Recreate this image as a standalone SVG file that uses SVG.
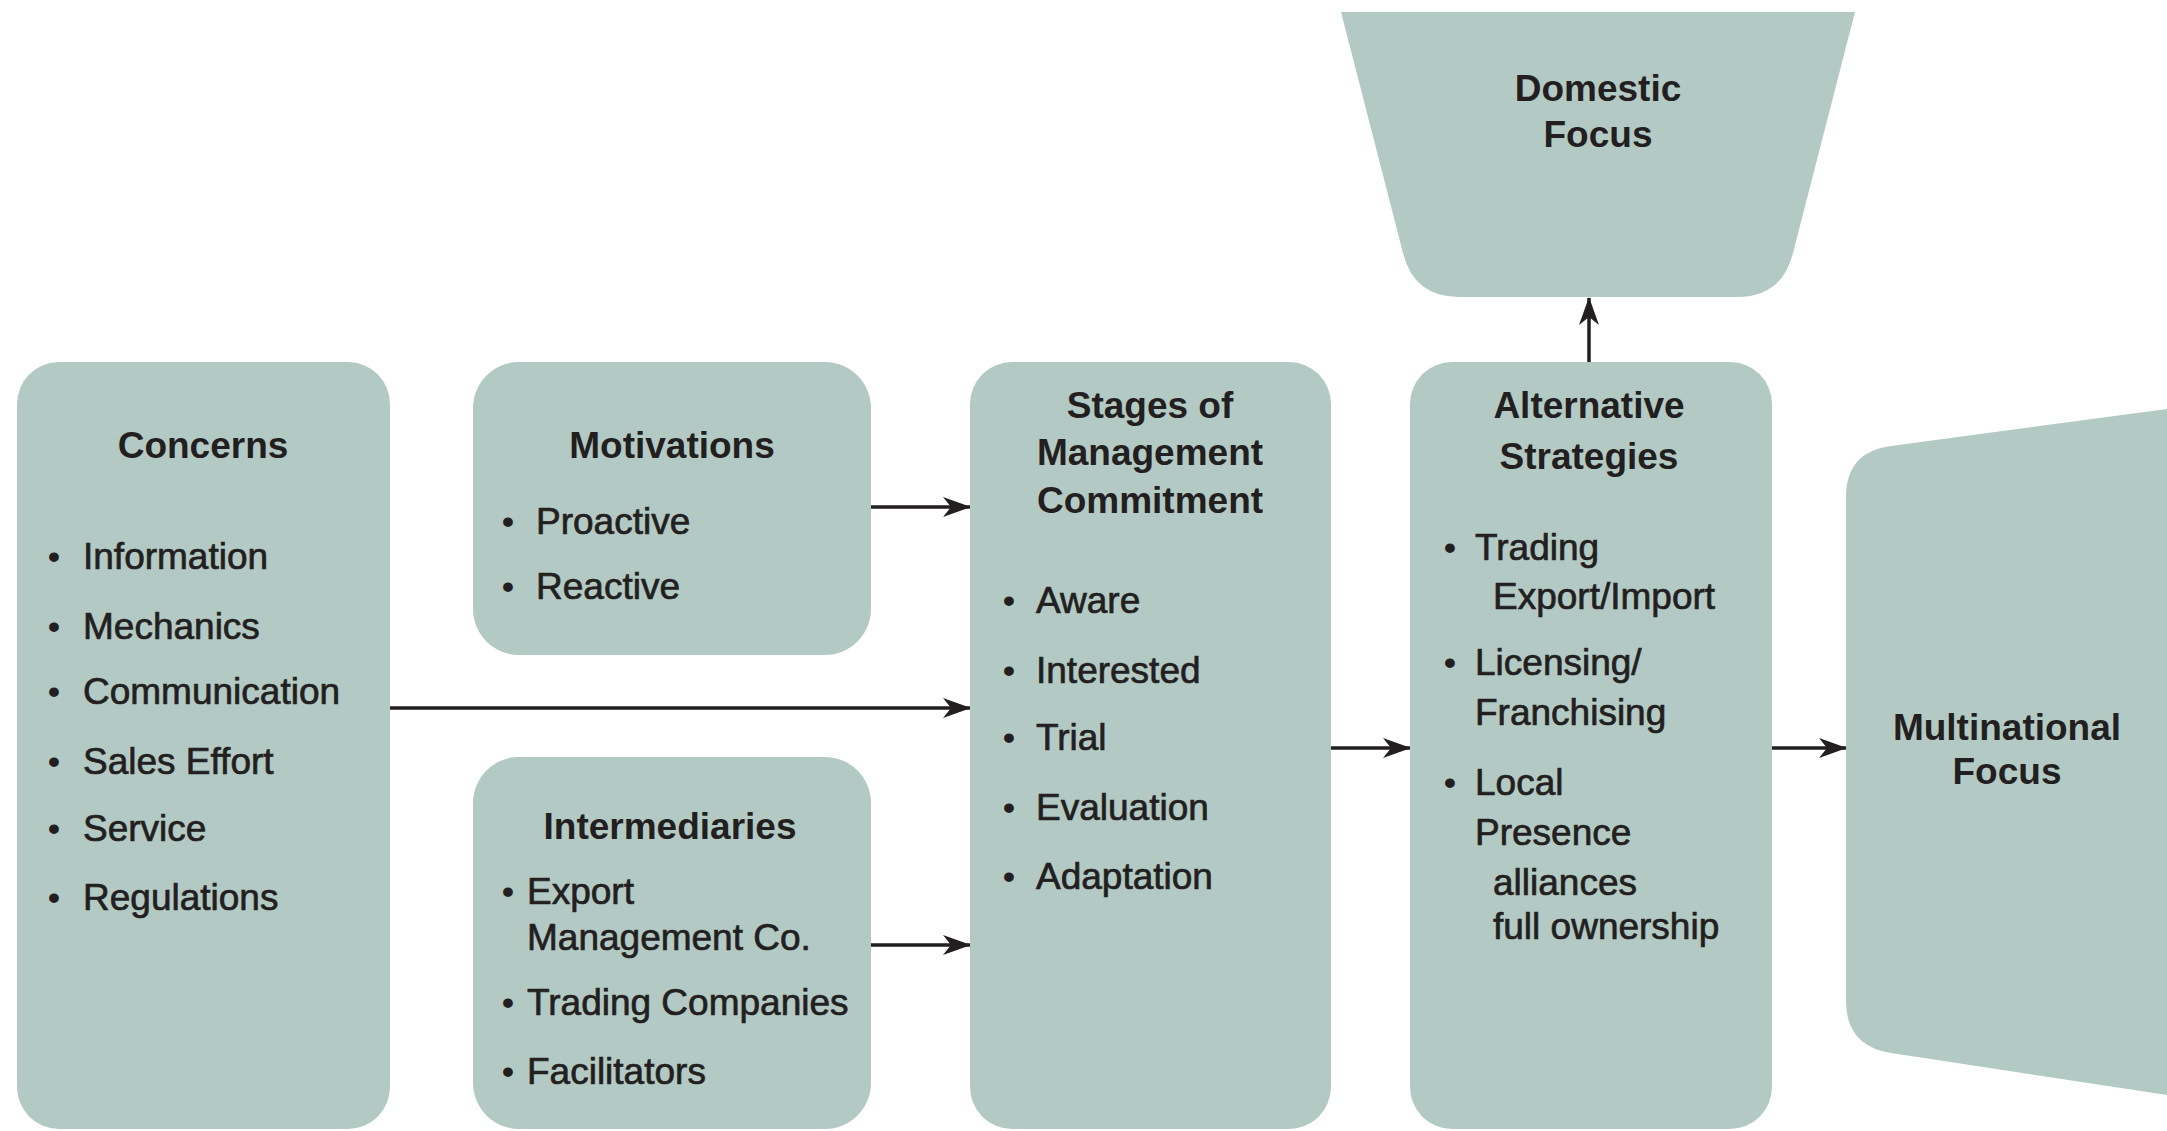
<svg xmlns="http://www.w3.org/2000/svg" width="2167" height="1131" viewBox="0 0 2167 1131">
  <style>
    .box { fill: #b3cac4; }
    .ttl { font-family: "Liberation Sans", Arial, sans-serif; font-size: 37px; font-weight: bold; fill: #231f20; text-anchor: middle; }
    .itm { font-family: "Liberation Sans", Arial, sans-serif; font-size: 37px; fill: #231f20; stroke: #231f20; stroke-width: 0.7px; }
    .bul { font-family: "Liberation Sans", Arial, sans-serif; font-size: 34px; font-weight: bold; fill: #231f20; text-anchor: middle; }
    .conn { stroke: #231f20; stroke-width: 3.5; fill: none; marker-end: url(#arrow); }
  </style>
  <defs>
    <marker id="arrow" markerUnits="userSpaceOnUse" markerWidth="28" markerHeight="20" refX="27" refY="10" orient="auto">
      <path d="M0,0 L28,10 L0,20 L8,10 Z" fill="#231f20"/>
    </marker>
  </defs>
  <rect width="2167" height="1131" fill="#ffffff"/>

  <!-- connectors -->
  <g id="connectors">
    <line class="conn" x1="871" y1="507" x2="970" y2="507"/>
    <line class="conn" x1="390" y1="708" x2="970" y2="708"/>
    <line class="conn" x1="871" y1="945" x2="970" y2="945"/>
    <line class="conn" x1="1331" y1="748" x2="1410" y2="748"/>
    <line class="conn" x1="1772" y1="748" x2="1846" y2="748"/>
    <line class="conn" x1="1589" y1="362" x2="1589" y2="298"/>
  </g>

  <!-- Concerns -->
  <g id="concerns">
    <rect class="box" x="17" y="362" width="373" height="767" rx="42"/>
    <text class="ttl" x="203" y="458">Concerns</text>
    <text class="bul" x="54" y="568">•</text><text class="itm" x="83" y="569">Information</text>
    <text class="bul" x="54" y="638">•</text><text class="itm" x="83" y="639">Mechanics</text>
    <text class="bul" x="54" y="703">•</text><text class="itm" x="83" y="704">Communication</text>
    <text class="bul" x="54" y="773">•</text><text class="itm" x="83" y="774">Sales Effort</text>
    <text class="bul" x="54" y="840">•</text><text class="itm" x="83" y="841">Service</text>
    <text class="bul" x="54" y="909">•</text><text class="itm" x="83" y="910">Regulations</text>
  </g>

  <!-- Motivations -->
  <g id="motivations">
    <rect class="box" x="473" y="362" width="398" height="293" rx="46"/>
    <text class="ttl" x="672" y="458">Motivations</text>
    <text class="bul" x="508" y="533">•</text><text class="itm" x="536" y="534">Proactive</text>
    <text class="bul" x="508" y="598">•</text><text class="itm" x="536" y="599">Reactive</text>
  </g>

  <!-- Intermediaries -->
  <g id="intermediaries">
    <rect class="box" x="473" y="757" width="398" height="372" rx="46"/>
    <text class="ttl" x="670" y="839">Intermediaries</text>
    <text class="bul" x="508" y="903">•</text><text class="itm" x="527" y="904">Export</text>
    <text class="itm" x="527" y="950">Management Co.</text>
    <text class="bul" x="508" y="1014">•</text><text class="itm" x="527" y="1015">Trading Companies</text>
    <text class="bul" x="508" y="1083">•</text><text class="itm" x="527" y="1084">Facilitators</text>
  </g>

  <!-- Stages of Management Commitment -->
  <g id="stages">
    <rect class="box" x="970" y="362" width="361" height="767" rx="42"/>
    <text class="ttl" x="1150" y="418">Stages of</text>
    <text class="ttl" x="1150" y="465">Management</text>
    <text class="ttl" x="1150" y="513">Commitment</text>
    <text class="bul" x="1009" y="612">•</text><text class="itm" x="1036" y="613">Aware</text>
    <text class="bul" x="1009" y="682">•</text><text class="itm" x="1036" y="683">Interested</text>
    <text class="bul" x="1009" y="749">•</text><text class="itm" x="1036" y="750">Trial</text>
    <text class="bul" x="1009" y="819">•</text><text class="itm" x="1036" y="820">Evaluation</text>
    <text class="bul" x="1009" y="888">•</text><text class="itm" x="1036" y="889">Adaptation</text>
  </g>

  <!-- Alternative Strategies -->
  <g id="alternative">
    <rect class="box" x="1410" y="362" width="362" height="767" rx="42"/>
    <text class="ttl" x="1589" y="418">Alternative</text>
    <text class="ttl" x="1589" y="469">Strategies</text>
    <text class="bul" x="1450" y="559">•</text><text class="itm" x="1475" y="560">Trading</text>
    <text class="itm" x="1493" y="609">Export/Import</text>
    <text class="bul" x="1450" y="674">•</text><text class="itm" x="1475" y="675">Licensing/</text>
    <text class="itm" x="1475" y="725">Franchising</text>
    <text class="bul" x="1450" y="794">•</text><text class="itm" x="1475" y="795">Local</text>
    <text class="itm" x="1475" y="845">Presence</text>
    <text class="itm" x="1493" y="895">alliances</text>
    <text class="itm" x="1493" y="939">full ownership</text>
  </g>

  <!-- Domestic Focus -->
  <g id="domestic">
    <path class="box" d="M1341,12 L1855,12 L1793,253 Q1782,297 1737,297 L1459,297 Q1414,297 1403,253 Z"/>
    <text class="ttl" x="1598" y="101">Domestic</text>
    <text class="ttl" x="1598" y="147">Focus</text>
  </g>

  <!-- Multinational Focus -->
  <g id="multinational">
    <path class="box" d="M2167,409 L1891,446 Q1846,452 1846,497 L1846,1001 Q1846,1046 1891,1053 L2167,1095 Z"/>
    <text class="ttl" x="2007" y="740">Multinational</text>
    <text class="ttl" x="2007" y="784">Focus</text>
  </g>
</svg>
